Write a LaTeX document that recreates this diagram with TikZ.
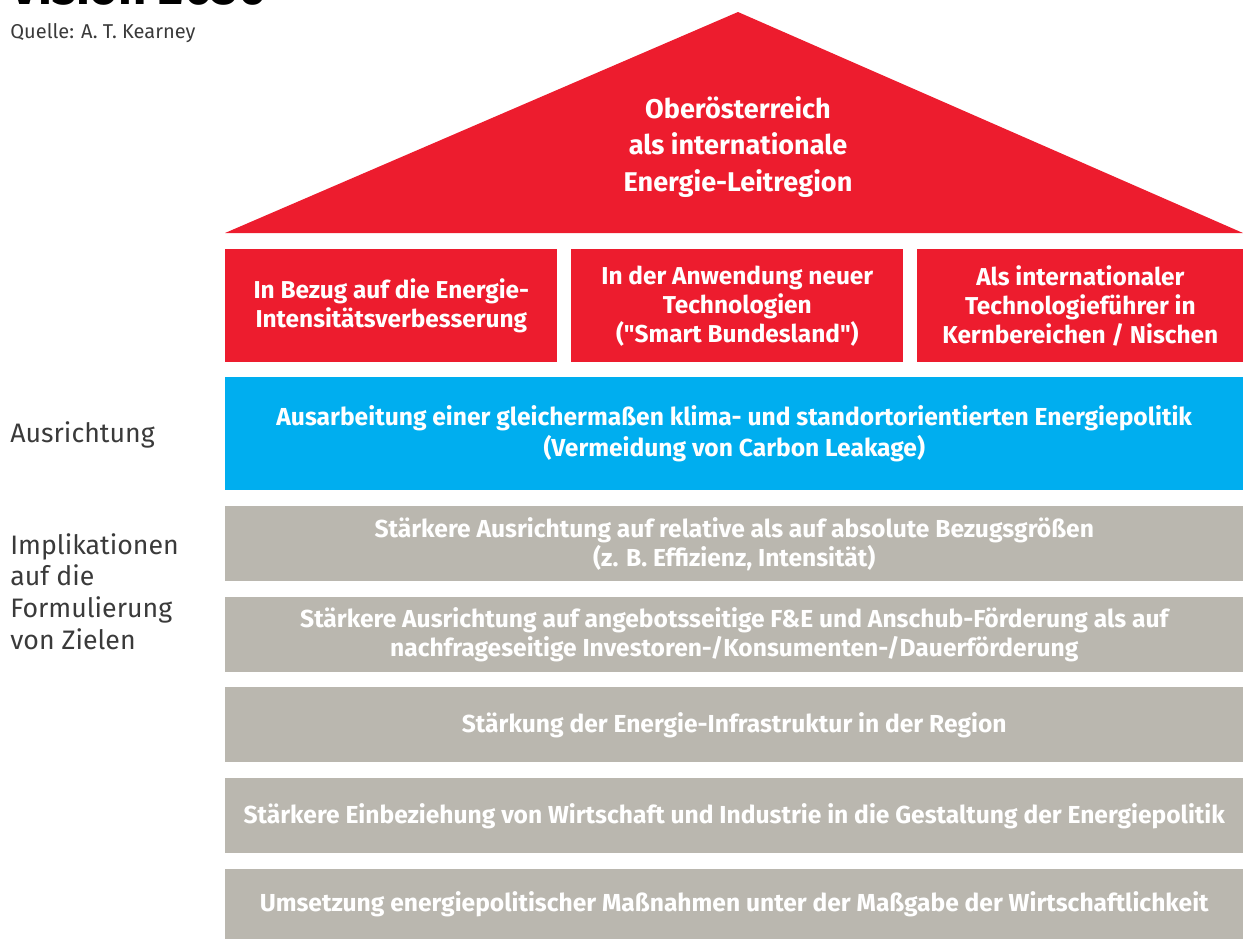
\documentclass[tikz,border=0pt]{standalone}
\usepackage{fontspec}
\setmainfont{Fira Sans}
\usepackage{xcolor}
\definecolor{roofred}{HTML}{ED1C2E}
\definecolor{skyblue}{HTML}{00AEEF}
\definecolor{stonegrey}{HTML}{BAB7AF}
\definecolor{labelgrey}{HTML}{3A3A3A}
\newcommand{\straightquote}{\XeTeXglyph\XeTeXcharglyph"22\relax}
\tikzset{
  pillar/.style={fill=roofred,text=white,font=\bfseries\fontsize{13.9}{16.5}\selectfont,align=center,
    minimum height=2.26cm,inner sep=0pt,anchor=north west},
  beam/.style={fill=skyblue,text=white,font=\bfseries\fontsize{14}{17.6}\selectfont,align=center,
    minimum width=20.36cm,minimum height=2.26cm,inner sep=0pt,anchor=north west},
  layer/.style={fill=stonegrey,text=white,font=\bfseries\fontsize{14}{16.5}\selectfont,align=center,
    minimum width=20.36cm,minimum height=1.5cm,inner sep=0pt,anchor=north west},
  sidelabel/.style={text=labelgrey,font=\fontsize{15.2}{18}\selectfont,align=left,anchor=west,inner sep=0pt}
}
\begin{document}
\begin{tikzpicture}[x=0.02cm,y=-0.02cm]
    \useasboundingbox (0,0) rectangle (1243,938);
    % title and source
    \node[anchor=base west,inner sep=0pt,font=\bfseries\fontsize{28}{30}\selectfont] (title) at (10,4) {Vision 2030};
    \node[anchor=west,inner sep=0pt,text=labelgrey,font=\fontsize{11.4}{13}\selectfont] (source) at (10,33) {Quelle: A. T. Kearney};
    % roof
    \fill[roofred] (225,233) -- (738,12) -- (1243,233) -- cycle;
    \node[text=white,font=\bfseries\fontsize{15.4}{21}\selectfont,align=center] (vision) at (738,147)
        {Oberösterreich\\als internationale\\Energie-Leitregion};
    % pillars
    \node[pillar,minimum width=6.64cm] (p1) at (225,249) {In Bezug auf die Energie-\\Intensitätsverbesserung};
    \node[pillar,minimum width=6.64cm] (p2) at (571,249) {In der Anwendung neuer\\Technologien\\(\straightquote Smart Bundesland\straightquote)};
    \node[pillar,minimum width=6.52cm] (p3) at (917,249) {Als internationaler\\Technologieführer in\\Kernbereichen / Nischen};
    % beam
    \node[beam] (ausarb) at (225,377) {Ausarbeitung einer gleichermaßen klima- und standortorientierten Energiepolitik\\(Vermeidung von Carbon Leakage)};
    % foundation layers
    \node[layer] (l1) at (225,506) {Stärkere Ausrichtung auf relative als auf absolute Bezugsgrößen\\(z. B. Effizienz, Intensität)};
    \node[layer] (l2) at (225,597) {Stärkere Ausrichtung auf angebotsseitige F\&E und Anschub-Förderung als auf\\nachfrageseitige Investoren-/Konsumenten-/Dauerförderung};
    \node[layer] (l3) at (225,687) {Stärkung der Energie-Infrastruktur in der Region};
    \node[layer] (l4) at (225,778) {Stärkere Einbeziehung von Wirtschaft und Industrie in die Gestaltung der Energiepolitik};
    \node[layer,minimum height=1.4cm] (l5) at (225,869) {Umsetzung energiepolitischer Maßnahmen unter der Maßgabe der Wirtschaftlichkeit};
    % side labels
    \node[sidelabel] (ausr) at (10,435) {Ausrichtung};
    \node[sidelabel,anchor=north west] (impl) at (10,533) {Implikationen\\auf die\\Formulierung\\von Zielen};
\end{tikzpicture}
\end{document}
